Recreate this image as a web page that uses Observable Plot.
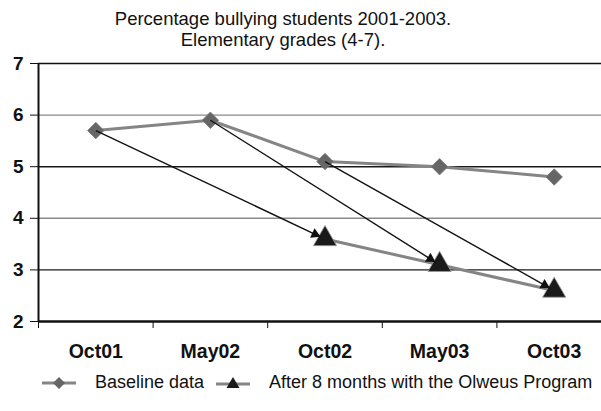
<!DOCTYPE html>
<html>
<head>
<meta charset="utf-8">
<script src="https://cdn.jsdelivr.net/npm/d3@7"></script>
<script src="https://cdn.jsdelivr.net/npm/@observablehq/plot@0.6"></script>
<style>
  html, body { margin: 0; padding: 0; background: #fff; }
  #wrap { position: relative; width: 601px; height: 411px; overflow: hidden; font-family: "Liberation Sans", Arial, sans-serif; }
  #title { position: absolute; left: 0; top: 8px; width: 566px; text-align: center; font-size: 18.5px; line-height: 21px; color: #111; }
  #legend { position: absolute; left: 42px; top: 372px; white-space: nowrap; font-size: 18px; line-height: 21px; color: #111; display: flex; align-items: center; }
  #legend span.item { display: inline-flex; align-items: center; margin-right: 12px; }
  #legend svg { margin-right: 19px; }
  #chart { position: absolute; left: 0; top: 0; }
</style>
</head>
<body>
<div id="wrap">
  <div id="chart"></div>
  <div id="title">Percentage bullying students 2001-2003.<br>Elementary grades (4-7).</div>
  <div id="legend"></div>
</div>
<script>
const categories = ["Oct01", "May02", "Oct02", "May03", "Oct03"];
const baseline = [5.7, 5.9, 5.1, 5.0, 4.8];
const after8 = [null, null, 3.6, 3.1, 2.6];
const yTicks = [2, 3, 4, 5, 6, 7];
const seriesNames = ["Baseline data", "After 8 months with the Olweus Program"];

const xOpts = {type: "linear", domain: [-0.5, categories.length - 0.5], range: [38, 611]};
const yOpts = {domain: [2, 7], range: [321, 63]};
const xs = Plot.scale({x: xOpts});
const ys = Plot.scale({y: yOpts});

const baseData = baseline.map((v, i) => ({i, v}));
const afterData = after8.map((v, i) => ({i, v})).filter(d => d.v != null);

// arrows from each baseline point to the measurement two periods later
const arrowData = afterData.map(d => {
  const i1 = d.i - 2, v1 = baseline[i1];
  const p1 = [xs.apply(i1), ys.apply(v1)], p2 = [xs.apply(d.i), ys.apply(d.v)];
  const len = Math.hypot(p2[0] - p1[0], p2[1] - p1[1]);
  const u = [(p2[0] - p1[0]) / len, (p2[1] - p1[1]) / len];
  const tip = [p2[0] - u[0] * 5, p2[1] - u[1] * 5];
  const ctr = [tip[0] - u[0] * 6, tip[1] - u[1] * 6];
  return {
    i1, v1,
    tx: xs.invert(tip[0]), ty: ys.invert(tip[1]),
    hx: xs.invert(ctr[0]), hy: ys.invert(ctr[1]),
    angle: Math.atan2(u[1], u[0]) * 180 / Math.PI + 90
  };
});

const chart = Plot.plot({
  width: 601,
  height: 411,
  marginTop: 63,
  marginBottom: 90,
  marginLeft: 38,
  marginRight: 0,
  style: {fontFamily: "Liberation Sans, Arial, sans-serif", background: "transparent", overflow: "hidden"},
  x: xOpts,
  y: yOpts,
  marks: [
    Plot.ruleY(yTicks.filter(t => t > 2 && t < 7), {y: d => d, stroke: d => d % 2 ? "#1a1a1a" : "#8a8a8a", strokeWidth: 1.4}),
    Plot.ruleY([7], {stroke: "#111", strokeWidth: 1.6}),
    Plot.ruleY([2], {stroke: "#111", strokeWidth: 2.6}),
    Plot.ruleX([-0.5], {y1: 2, y2: 7, stroke: "#111", strokeWidth: 2}),
    Plot.axisY({ticks: yTicks, tickSize: 8, tickPadding: 7, tickFormat: d => d, fontSize: 19, fontWeight: "bold", stroke: "#111", color: "#111"}),
    Plot.axisX({ticks: d3.range(-0.5, categories.length, 1), tickSize: 7, tickFormat: () => "", stroke: "#111"}),
    Plot.axisX({ticks: d3.range(categories.length), tickSize: 0, tickPadding: 23, tickFormat: i => categories[i], fontSize: 19.5, fontWeight: "bold", color: "#111"}),
    Plot.line(baseData, {x: "i", y: "v", stroke: "#858585", strokeWidth: 3}),
    Plot.line(afterData, {x: "i", y: "v", stroke: "#858585", strokeWidth: 3}),
    Plot.dot(baseData, {x: "i", y: "v", symbol: "diamond2", r: 7.4, fill: "#666", stroke: "#777", strokeWidth: 0.8}),
    Plot.dot(afterData, {x: "i", y: "v", symbol: "triangle", r: 8.6, fill: "#1a1a1a", stroke: "#999", strokeWidth: 0.8}),
    Plot.link(arrowData, {x1: "i1", y1: "v1", x2: "tx", y2: "ty", stroke: "#111", strokeWidth: 1.4}),
    Plot.dot(arrowData, {x: "hx", y: "hy", symbol: "triangle", r: 3.9, rotate: "angle", fill: "#111", stroke: "none"})
  ]
});
document.getElementById("chart").appendChild(chart);

// legend
const legend = document.getElementById("legend");
const swatches = [
  `<svg width="34" height="14" viewBox="0 0 34 14"><line x1="0" y1="7" x2="34" y2="7" stroke="#858585" stroke-width="3"/><path d="M17 1 L23 7 L17 13 L11 7 Z" fill="#666"/></svg>`,
  `<svg width="34" height="14" viewBox="0 0 34 14"><line x1="0" y1="8" x2="34" y2="8" stroke="#858585" stroke-width="3"/><path d="M17 1 L23.5 12 L10.5 12 Z" fill="#1a1a1a"/></svg>`
];
seriesNames.forEach((name, k) => {
  const s = document.createElement("span");
  s.className = "item";
  s.innerHTML = swatches[k] + `<span>${name}</span>`;
  legend.appendChild(s);
});
</script>
</body>
</html>
